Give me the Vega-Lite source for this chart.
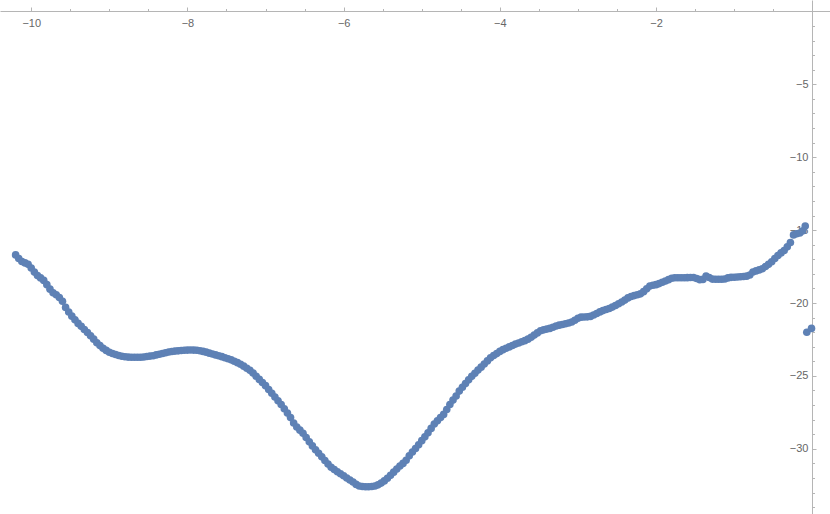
{
  "$schema": "https://vega.github.io/schema/vega-lite/v6.json",
  "width": 830,
  "height": 514,
  "autosize": "none",
  "padding": 0,
  "background": "white",
  "config": {"view": {"stroke": null}},
  "data": {"values": [
    {"x":-10.20,"y":-16.70},{"x":-10.16,"y":-16.95},{"x":-10.12,"y":-17.15},{"x":-10.08,"y":-17.25},{"x":-10.04,"y":-17.35},
    {"x":-10.00,"y":-17.60},{"x":-9.96,"y":-17.88},{"x":-9.92,"y":-18.12},{"x":-9.88,"y":-18.28},{"x":-9.84,"y":-18.45},
    {"x":-9.80,"y":-18.74},{"x":-9.76,"y":-19.05},{"x":-9.72,"y":-19.30},{"x":-9.68,"y":-19.43},{"x":-9.64,"y":-19.62},
    {"x":-9.60,"y":-19.88},{"x":-9.56,"y":-20.30},{"x":-9.52,"y":-20.62},{"x":-9.48,"y":-20.90},{"x":-9.44,"y":-21.15},
    {"x":-9.40,"y":-21.40},{"x":-9.36,"y":-21.60},{"x":-9.32,"y":-21.82},{"x":-9.28,"y":-22.02},{"x":-9.24,"y":-22.25},
    {"x":-9.20,"y":-22.48},{"x":-9.16,"y":-22.73},{"x":-9.12,"y":-22.92},{"x":-9.08,"y":-23.10},{"x":-9.04,"y":-23.25},
    {"x":-9.00,"y":-23.38},{"x":-8.96,"y":-23.46},{"x":-8.92,"y":-23.53},{"x":-8.88,"y":-23.60},{"x":-8.84,"y":-23.65},
    {"x":-8.80,"y":-23.69},{"x":-8.76,"y":-23.71},{"x":-8.72,"y":-23.72},{"x":-8.68,"y":-23.72},{"x":-8.64,"y":-23.72},
    {"x":-8.60,"y":-23.72},{"x":-8.56,"y":-23.70},{"x":-8.52,"y":-23.67},{"x":-8.48,"y":-23.64},{"x":-8.44,"y":-23.62},
    {"x":-8.40,"y":-23.56},{"x":-8.36,"y":-23.51},{"x":-8.32,"y":-23.46},{"x":-8.28,"y":-23.41},{"x":-8.24,"y":-23.36},
    {"x":-8.20,"y":-23.33},{"x":-8.16,"y":-23.30},{"x":-8.12,"y":-23.28},{"x":-8.08,"y":-23.26},{"x":-8.04,"y":-23.24},
    {"x":-8.00,"y":-23.23},{"x":-7.96,"y":-23.22},{"x":-7.92,"y":-23.23},{"x":-7.88,"y":-23.24},{"x":-7.84,"y":-23.27},
    {"x":-7.80,"y":-23.32},{"x":-7.76,"y":-23.37},{"x":-7.72,"y":-23.44},{"x":-7.68,"y":-23.50},{"x":-7.64,"y":-23.56},
    {"x":-7.60,"y":-23.62},{"x":-7.56,"y":-23.68},{"x":-7.52,"y":-23.75},{"x":-7.48,"y":-23.82},{"x":-7.44,"y":-23.90},
    {"x":-7.40,"y":-23.99},{"x":-7.36,"y":-24.09},{"x":-7.32,"y":-24.20},{"x":-7.28,"y":-24.33},{"x":-7.24,"y":-24.47},
    {"x":-7.20,"y":-24.62},{"x":-7.16,"y":-24.80},{"x":-7.12,"y":-25.02},{"x":-7.08,"y":-25.24},{"x":-7.04,"y":-25.45},
    {"x":-7.00,"y":-25.67},{"x":-6.96,"y":-25.93},{"x":-6.92,"y":-26.19},{"x":-6.88,"y":-26.45},{"x":-6.84,"y":-26.70},
    {"x":-6.80,"y":-26.96},{"x":-6.76,"y":-27.25},{"x":-6.72,"y":-27.55},{"x":-6.68,"y":-27.86},{"x":-6.64,"y":-28.23},
    {"x":-6.60,"y":-28.50},{"x":-6.56,"y":-28.72},{"x":-6.52,"y":-28.93},{"x":-6.48,"y":-29.22},{"x":-6.44,"y":-29.52},
    {"x":-6.40,"y":-29.80},{"x":-6.36,"y":-30.06},{"x":-6.32,"y":-30.30},{"x":-6.28,"y":-30.55},{"x":-6.24,"y":-30.80},
    {"x":-6.20,"y":-31.04},{"x":-6.16,"y":-31.26},{"x":-6.12,"y":-31.42},{"x":-6.08,"y":-31.57},{"x":-6.04,"y":-31.71},
    {"x":-6.00,"y":-31.85},{"x":-5.96,"y":-32.00},{"x":-5.92,"y":-32.14},{"x":-5.88,"y":-32.28},{"x":-5.84,"y":-32.44},
    {"x":-5.80,"y":-32.55},{"x":-5.76,"y":-32.58},{"x":-5.72,"y":-32.60},{"x":-5.68,"y":-32.60},{"x":-5.64,"y":-32.58},
    {"x":-5.60,"y":-32.55},{"x":-5.56,"y":-32.47},{"x":-5.52,"y":-32.35},{"x":-5.48,"y":-32.20},{"x":-5.44,"y":-32.02},
    {"x":-5.40,"y":-31.82},{"x":-5.36,"y":-31.60},{"x":-5.32,"y":-31.38},{"x":-5.28,"y":-31.18},{"x":-5.24,"y":-31.00},
    {"x":-5.20,"y":-30.78},{"x":-5.16,"y":-30.48},{"x":-5.12,"y":-30.22},{"x":-5.08,"y":-29.98},{"x":-5.04,"y":-29.72},
    {"x":-5.00,"y":-29.44},{"x":-4.96,"y":-29.18},{"x":-4.92,"y":-28.90},{"x":-4.88,"y":-28.60},{"x":-4.84,"y":-28.30},
    {"x":-4.80,"y":-28.08},{"x":-4.76,"y":-27.86},{"x":-4.72,"y":-27.64},{"x":-4.68,"y":-27.30},{"x":-4.64,"y":-26.96},
    {"x":-4.60,"y":-26.66},{"x":-4.56,"y":-26.38},{"x":-4.52,"y":-26.04},{"x":-4.48,"y":-25.78},{"x":-4.44,"y":-25.52},
    {"x":-4.40,"y":-25.27},{"x":-4.36,"y":-25.03},{"x":-4.32,"y":-24.82},{"x":-4.28,"y":-24.60},{"x":-4.24,"y":-24.40},
    {"x":-4.20,"y":-24.18},{"x":-4.16,"y":-23.97},{"x":-4.12,"y":-23.76},{"x":-4.08,"y":-23.60},{"x":-4.04,"y":-23.47},
    {"x":-4.00,"y":-23.32},{"x":-3.96,"y":-23.20},{"x":-3.92,"y":-23.10},{"x":-3.88,"y":-23.01},{"x":-3.84,"y":-22.91},
    {"x":-3.80,"y":-22.82},{"x":-3.76,"y":-22.74},{"x":-3.72,"y":-22.66},{"x":-3.68,"y":-22.58},{"x":-3.64,"y":-22.48},
    {"x":-3.60,"y":-22.35},{"x":-3.56,"y":-22.20},{"x":-3.52,"y":-22.05},{"x":-3.48,"y":-21.90},{"x":-3.44,"y":-21.84},
    {"x":-3.40,"y":-21.79},{"x":-3.36,"y":-21.74},{"x":-3.32,"y":-21.66},{"x":-3.28,"y":-21.58},{"x":-3.24,"y":-21.52},
    {"x":-3.20,"y":-21.47},{"x":-3.16,"y":-21.42},{"x":-3.12,"y":-21.37},{"x":-3.08,"y":-21.30},{"x":-3.04,"y":-21.18},
    {"x":-3.00,"y":-21.05},{"x":-2.96,"y":-20.97},{"x":-2.92,"y":-20.96},{"x":-2.88,"y":-20.95},{"x":-2.84,"y":-20.92},
    {"x":-2.80,"y":-20.82},{"x":-2.76,"y":-20.72},{"x":-2.72,"y":-20.61},{"x":-2.68,"y":-20.52},{"x":-2.64,"y":-20.45},
    {"x":-2.60,"y":-20.38},{"x":-2.56,"y":-20.28},{"x":-2.52,"y":-20.17},{"x":-2.48,"y":-20.05},{"x":-2.44,"y":-19.93},
    {"x":-2.40,"y":-19.80},{"x":-2.36,"y":-19.65},{"x":-2.32,"y":-19.55},{"x":-2.28,"y":-19.49},{"x":-2.24,"y":-19.43},
    {"x":-2.20,"y":-19.37},{"x":-2.16,"y":-19.22},{"x":-2.12,"y":-19.03},{"x":-2.08,"y":-18.84},{"x":-2.04,"y":-18.78},
    {"x":-2.00,"y":-18.74},{"x":-1.96,"y":-18.67},{"x":-1.92,"y":-18.58},{"x":-1.88,"y":-18.49},{"x":-1.84,"y":-18.40},
    {"x":-1.80,"y":-18.30},{"x":-1.76,"y":-18.27},{"x":-1.72,"y":-18.27},{"x":-1.68,"y":-18.27},{"x":-1.64,"y":-18.27},
    {"x":-1.60,"y":-18.26},{"x":-1.56,"y":-18.25},{"x":-1.52,"y":-18.25},{"x":-1.48,"y":-18.32},{"x":-1.44,"y":-18.40},
    {"x":-1.40,"y":-18.38},{"x":-1.36,"y":-18.16},{"x":-1.32,"y":-18.25},{"x":-1.28,"y":-18.36},{"x":-1.24,"y":-18.37},
    {"x":-1.20,"y":-18.37},{"x":-1.16,"y":-18.37},{"x":-1.12,"y":-18.35},{"x":-1.08,"y":-18.28},{"x":-1.04,"y":-18.24},
    {"x":-1.00,"y":-18.23},{"x":-0.96,"y":-18.22},{"x":-0.92,"y":-18.20},{"x":-0.88,"y":-18.18},{"x":-0.84,"y":-18.16},
    {"x":-0.80,"y":-18.08},{"x":-0.76,"y":-17.87},{"x":-0.72,"y":-17.80},{"x":-0.68,"y":-17.73},{"x":-0.64,"y":-17.65},
    {"x":-0.60,"y":-17.50},{"x":-0.56,"y":-17.35},{"x":-0.52,"y":-17.17},{"x":-0.48,"y":-16.95},{"x":-0.44,"y":-16.74},
    {"x":-0.40,"y":-16.56},{"x":-0.36,"y":-16.40},{"x":-0.32,"y":-16.15},{"x":-0.28,"y":-15.85},{"x":-0.24,"y":-15.33},
    {"x":-0.20,"y":-15.25},{"x":-0.16,"y":-15.20},{"x":-0.12,"y":-15.05},{"x":-0.09,"y":-14.72},
    {"x":-0.07,"y":-22.01},{"x":-0.01,"y":-21.74}
  ]},
  "mark": {"type": "circle", "size": 58, "opacity": 1, "color": "#5E81B5"},
  "encoding": {
    "x": {
      "field": "x", "type": "quantitative",
      "scale": {"domain": [-10.40, 0.227], "nice": false, "zero": false},
      "axis": {
        "orient": "bottom", "offset": -503, "title": null, "grid": false, "format": "~g",
        "values": [-10,-9.5,-9,-8.5,-8,-7.5,-7,-6.5,-6,-5.5,-5,-4.5,-4,-3.5,-3,-2.5,-2,-1.5,-1,-0.5,0],
        "labelExpr": "(datum.value % 2 === 0 && datum.value !== 0) ? datum.label : ''",
        "tickSize": {"condition": {"test": "datum.value % 2 === 0", "value": -4}, "value": -2.5},
        "labelPadding": 10,
        "labelOverlap": false, "labelBound": false, "labelFlush": false,
        "domainColor": "#b5b5b5", "tickColor": "#b5b5b5", "domainWidth": 1, "tickWidth": 1,
        "labelColor": "#666666", "labelFont": "Liberation Sans", "labelFontSize": 11
      }
    },
    "y": {
      "field": "y", "type": "quantitative",
      "scale": {"domain": [-34.47, 0.78], "nice": false, "zero": false},
      "axis": {
        "orient": "left", "offset": -812, "title": null, "grid": false, "format": "~g",
        "values": [-34,-33,-32,-31,-30,-29,-28,-27,-26,-25,-24,-23,-22,-21,-20,-19,-18,-17,-16,-15,-14,-13,-12,-11,-10,-9,-8,-7,-6,-5,-4,-3,-2,-1,0],
        "labelExpr": "(datum.value % 5 === 0 && datum.value !== 0) ? datum.label : ''",
        "tickSize": {"condition": {"test": "datum.value % 5 === 0", "value": -4}, "value": -2.5},
        "labelPadding": 8,
        "labelOverlap": false, "labelBound": false, "labelFlush": false,
        "domainColor": "#b5b5b5", "tickColor": "#b5b5b5", "domainWidth": 1, "tickWidth": 1,
        "labelColor": "#666666", "labelFont": "Liberation Sans", "labelFontSize": 11
      }
    }
  }
}
